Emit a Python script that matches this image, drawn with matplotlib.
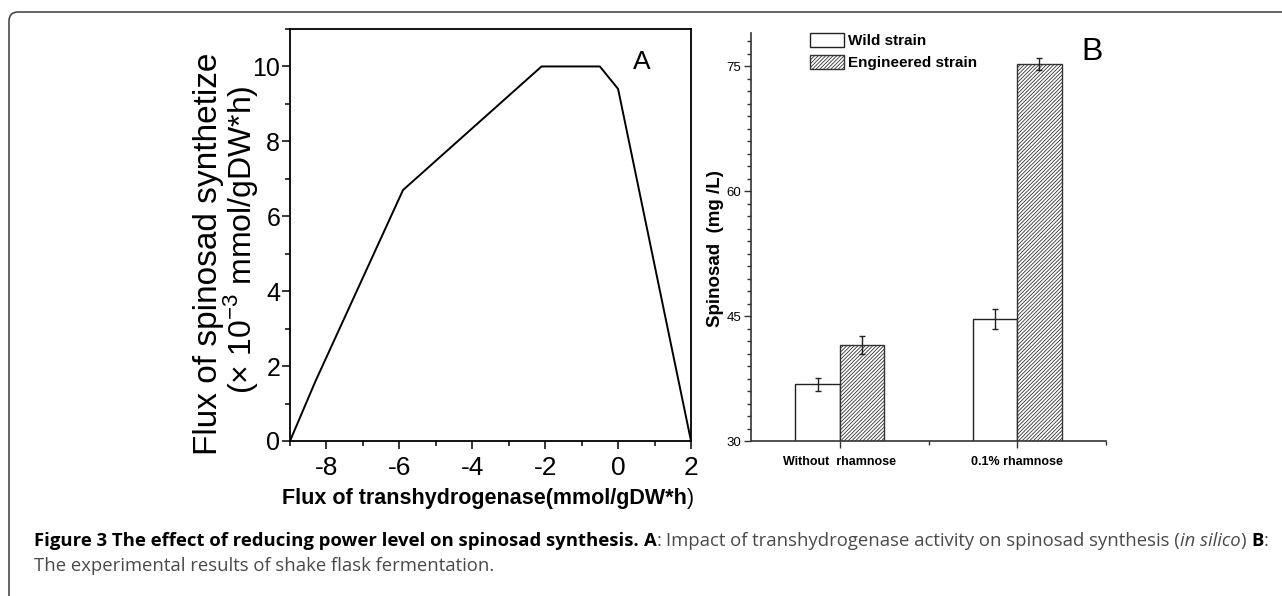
import matplotlib
matplotlib.use("Agg")
import matplotlib.pyplot as plt
from matplotlib.patches import FancyBboxPatch
from matplotlib.ticker import MultipleLocator, FixedLocator
from matplotlib.transforms import IdentityTransform

WIDE = "Liberation Sans"
CAP = "Open Sans"

plt.rcParams["font.family"] = [WIDE, "DejaVu Sans"]
plt.rcParams["axes.unicode_minus"] = False
plt.rcParams["mathtext.fontset"] = "custom"
plt.rcParams["mathtext.rm"] = WIDE
plt.rcParams["hatch.linewidth"] = 0.6

# panel A: in silico flux scan
flux_transhydrogenase = [-9, -8.3, -5.9, -2.1, -0.5, 0, 2]
flux_spinosad = [0, 1.6, 6.7, 10, 10, 9.4, 0]

# panel B: shake flask results
conditions = ["Without  rhamnose", "0.1% rhamnose"]
wild_strain = [36.8, 44.7]
wild_err = [0.8, 1.2]
engineered_strain = [41.5, 75.3]
engineered_err = [1.1, 0.7]

W, H = 1282, 596
fig = plt.figure(figsize=(W / 100, H / 100), dpi=100)


def box(l, t, r, b):
    return [l / W, 1 - b / H, (r - l) / W, (b - t) / H]


def px(x, y):
    return x / W, 1 - y / H


# outer rounded frame (only top/left visible)
fig.add_artist(FancyBboxPatch((9, -30), 1400, 584 + 30,
                              boxstyle="round,pad=0,rounding_size=9",
                              transform=IdentityTransform(), fill=False,
                              ec="#3a3a3a", lw=1.1))

# ---- Panel A ----
axA = fig.add_axes(box(290, 29, 691, 441))
axA.plot(flux_transhydrogenase, flux_spinosad, color="black", lw=1.4)
axA.set_xlim(-9, 2)
axA.set_ylim(0, 11)
axA.xaxis.set_major_locator(FixedLocator([-8, -6, -4, -2, 0, 2]))
axA.xaxis.set_minor_locator(MultipleLocator(1))
axA.yaxis.set_major_locator(FixedLocator([0, 2, 4, 6, 8, 10]))
axA.yaxis.set_minor_locator(MultipleLocator(1))
axA.tick_params(which="both", direction="out", width=1.1, labelsize=19)
axA.tick_params(axis="y", labelsize=18)
axA.tick_params(which="major", length=6)
axA.tick_params(which="minor", length=3.5)
axA.tick_params(axis="y", pad=1)
axA.tick_params(axis="x", pad=5)
for s in axA.spines.values():
    s.set_linewidth(1.3)

fig.text(*px(208, 254), "Flux of spinosad synthetize", rotation=90,
         ha="center", va="center", family=WIDE, fontsize=24)
fig.text(*px(240, 240), r"(× 10$^{-3}$ mmol/gDW*h)", rotation=90,
         ha="center", va="center", family=WIDE, fontsize=23)
fig.text(*px(642, 62), "A", ha="center", va="center", family=WIDE, fontsize=19)

r = fig.canvas.get_renderer()
xl = fig.text(*px(484, 504), "Flux of transhydrogenase(mmol/gDW*h", ha="center",
              va="baseline", family=WIDE, weight="bold", fontsize=15.5)
xl_end = xl.get_window_extent(r).x1
fig.text(xl_end / W, 1 - 504 / H, ")", ha="left", va="baseline",
         family=WIDE, fontsize=15.5)

# ---- Panel B ----
axB = fig.add_axes(box(751, 33, 1106, 441))
pos = [1, 2]
w = 0.25
axB.bar([p - w / 2 for p in pos], wild_strain, w, color="white",
        edgecolor="#222222", lw=1.0, yerr=wild_err, capsize=2.5,
        error_kw=dict(elinewidth=1, capthick=1, ecolor="#222222"),
        label="Wild strain")
axB.bar([p + w / 2 for p in pos], engineered_strain, w, color="white",
        edgecolor="#333333", lw=1.0, hatch="/////////", yerr=engineered_err,
        capsize=2.5, error_kw=dict(elinewidth=1, capthick=1, ecolor="#222222"),
        label="Engineered strain")
axB.set_xlim(0.5, 2.5)
axB.set_ylim(30, 79)
axB.xaxis.set_major_locator(FixedLocator(pos))
axB.xaxis.set_minor_locator(FixedLocator([1.5, 2.5]))
axB.set_xticklabels(conditions, fontsize=9, weight="bold")
axB.yaxis.set_major_locator(FixedLocator([30, 45, 60, 75]))
axB.yaxis.set_minor_locator(MultipleLocator(1.5))
axB.tick_params(which="both", direction="out", width=1.0, color="#333333")
axB.tick_params(which="major", length=5)
axB.tick_params(which="minor", length=3)
axB.tick_params(axis="y", labelsize=9.5, pad=2)
axB.tick_params(axis="x", pad=6)
axB.spines["top"].set_visible(False)
axB.spines["right"].set_visible(False)
for s in ("left", "bottom"):
    axB.spines[s].set_linewidth(1.2)
    axB.spines[s].set_color("#333333")

axB.legend(loc="upper left", bbox_to_anchor=px(810, 33),
           bbox_transform=fig.transFigure, frameon=False, borderpad=0,
           borderaxespad=0, handlelength=2.2, handleheight=1.05,
           handletextpad=0.3, labelspacing=0.45,
           prop=dict(family=WIDE, weight="bold", size=11))

fig.text(*px(715, 249), "Spinosad  (mg /L)", rotation=90, ha="center",
         va="center", family=WIDE, weight="bold", fontsize=13.5)
fig.text(*px(1092, 52), "B", ha="center", va="center", family=WIDE, fontsize=23)

# ---- caption ----
GRAY = "#4a4a4a"


def caption_line(x0, y0, pieces):
    x = x0
    for txt, weight, style, color, gap in pieces:
        t = fig.text(x / W, 1 - y0 / H, txt, ha="left", va="baseline",
                     family=CAP, weight=weight, style=style, color=color,
                     fontsize=13.3)
        x = t.get_window_extent(r).x1 + gap


caption_line(34, 546, [
    ("Figure 3 The effect of reducing power level on spinosad synthesis.", "bold", "normal", "black", 5),
    ("A", "bold", "normal", "black", 0),
    (":", "normal", "normal", GRAY, 5),
    ("Impact of transhydrogenase activity on spinosad synthesis (", "normal", "normal", GRAY, 0),
    ("in silico", "normal", "italic", GRAY, 0),
    (")", "normal", "normal", GRAY, 5),
    ("B", "bold", "normal", "black", 0),
    (":", "normal", "normal", GRAY, 0),
])
caption_line(34, 571, [
    ("The experimental results of shake flask fermentation.", "normal", "normal", GRAY, 0),
])

fig.savefig("out.png", dpi=100)
